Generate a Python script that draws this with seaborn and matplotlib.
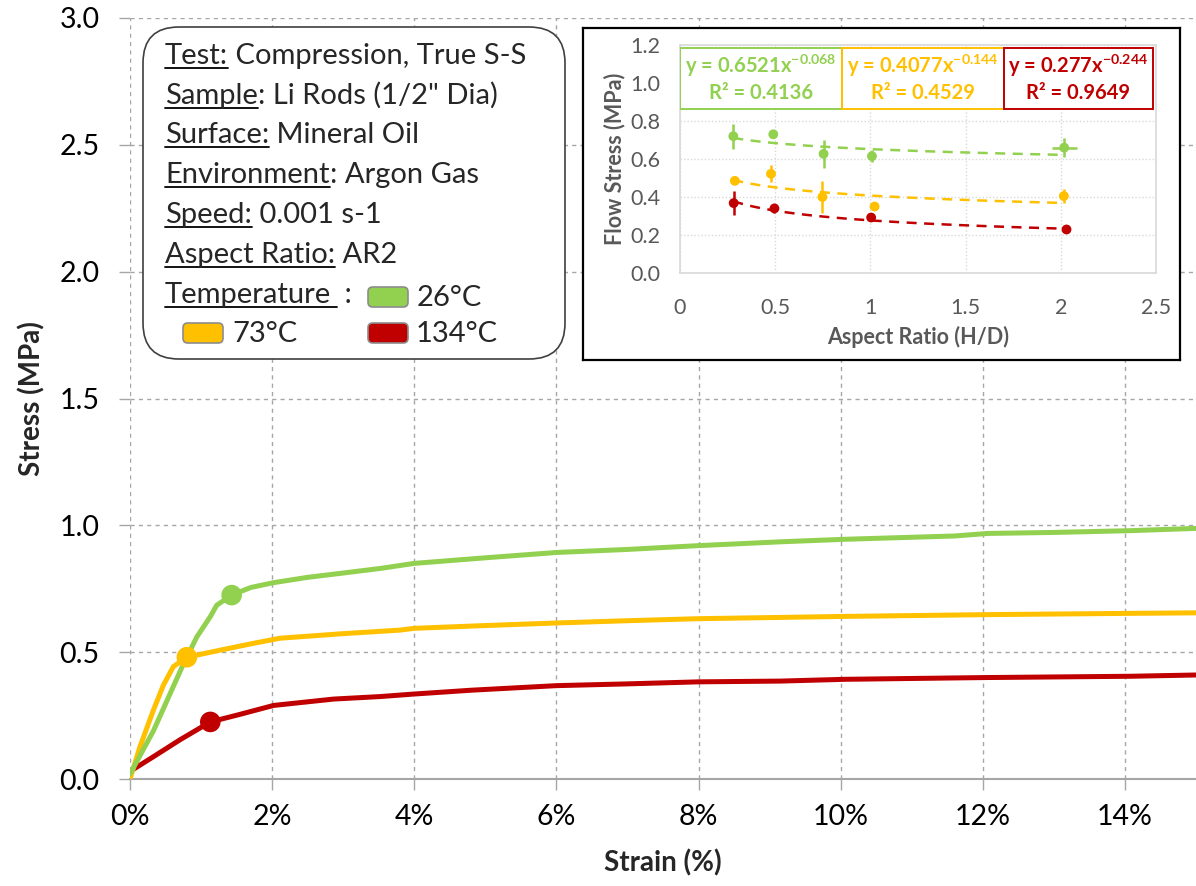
import numpy as np
import pandas as pd
import matplotlib
matplotlib.use("Agg")
import matplotlib.pyplot as plt
import seaborn as sns
from matplotlib.patches import FancyBboxPatch, Rectangle
from matplotlib.lines import Line2D
from matplotlib.ticker import FuncFormatter, MultipleLocator

# ---------------- data ----------------
temps = ["26°C", "73°C", "134°C"]
colors = {"26°C": "#92D050", "73°C": "#FFC000", "134°C": "#C00000"}

strain_26 = [0, 0.33, 0.73, 0.94, 1.13, 1.22, 1.43, 1.7, 2.02, 2.5, 3.0, 3.52, 4.0,
             5.0, 6.0, 7.0, 8.0, 9.15, 10.06, 11.6, 12.07, 13.0, 14.08, 15.0]
stress_26 = [0.02, 0.19, 0.44, 0.56, 0.64, 0.685, 0.725, 0.755, 0.774, 0.795, 0.812, 0.83, 0.85,
             0.872, 0.893, 0.905, 0.92, 0.935, 0.945, 0.958, 0.968, 0.972, 0.979, 0.988]

strain_73 = [0, 0.14, 0.33, 0.47, 0.61, 0.80, 1.27, 1.74, 2.11, 3.0, 3.8, 4.0, 5.0,
             6.0, 7.0, 8.0, 9.15, 10.06, 12.07, 14.08, 15.0]
stress_73 = [0.0, 0.127, 0.272, 0.37, 0.443, 0.48, 0.508, 0.535, 0.555, 0.573, 0.587, 0.594, 0.605,
             0.615, 0.624, 0.632, 0.637, 0.641, 0.648, 0.653, 0.655]

strain_134 = [0, 0.33, 0.70, 1.13, 1.55, 2.02, 2.86, 3.52, 4.0, 4.8, 6.0, 7.0, 8.0,
              9.15, 10.06, 12.07, 14.08, 15.0]
stress_134 = [0.03, 0.088, 0.154, 0.225, 0.255, 0.29, 0.315, 0.325, 0.335, 0.35, 0.368, 0.375, 0.383,
              0.386, 0.393, 0.400, 0.405, 0.41]

# flow-stress (yield) points marked on each curve
yield_strain = [1.43, 0.80, 1.13]
yield_stress = [0.725, 0.48, 0.225]

# flow stress vs. aspect ratio (inset)
ar_26 = [0.28, 0.49, 0.754, 1.008, 2.018]
fs_26 = [0.72, 0.73, 0.627, 0.615, 0.66]
err_26 = [0.065, 0.0, 0.075, 0.033, 0.05]
ar_73 = [0.288, 0.478, 0.748, 1.022, 2.016]
fs_73 = [0.485, 0.522, 0.40, 0.35, 0.405]
err_73 = [0.0, 0.045, 0.083, 0.0, 0.035]
ar_134 = [0.282, 0.496, 1.004, 2.03]
fs_134 = [0.368, 0.34, 0.292, 0.229]
err_134 = [0.065, 0.025, 0.02, 0.0]
xerr_ar2 = 0.065

# power-law fits  y = a * x^b
fit_a = [0.6521, 0.4077, 0.277]
fit_b = [-0.068, -0.144, -0.244]
fit_r2 = ["0.4136", "0.4529", "0.9649"]

# ---------------- style ----------------
sns.set_style("white")
plt.rcParams["font.family"] = ["Lato", "DejaVu Sans"]
plt.rcParams["mathtext.default"] = "regular"

W, H = 1196, 886
fig = plt.figure(figsize=(W / 100, H / 100), dpi=100)


def fx(px):
    return px / W


def fy(py):
    return 1 - py / H


GRID = "#A6A6A6"

# ---------------- main stress-strain chart ----------------
ax = fig.add_axes([fx(130), fy(779), (1196 - 130) / W, (779 - 18) / H])

curves = pd.concat([
    pd.DataFrame({"strain": strain_26, "stress": stress_26, "temp": temps[0]}),
    pd.DataFrame({"strain": strain_73, "stress": stress_73, "temp": temps[1]}),
    pd.DataFrame({"strain": strain_134, "stress": stress_134, "temp": temps[2]}),
], ignore_index=True)
yields = pd.DataFrame({"strain": yield_strain, "stress": yield_stress, "temp": temps})

sns.lineplot(data=curves, x="strain", y="stress", hue="temp", palette=colors,
             estimator=None, sort=False, linewidth=3.6, legend=False, ax=ax,
             hue_order=temps[::-1], zorder=3)
sns.scatterplot(data=yields, x="strain", y="stress", hue="temp", palette=colors,
                s=220, edgecolor="none", legend=False, ax=ax, zorder=4)

ax.set_xlim(0, 15)
ax.set_ylim(0, 3.0)
ax.xaxis.set_major_locator(MultipleLocator(2))
ax.yaxis.set_major_locator(MultipleLocator(0.5))
ax.xaxis.set_major_formatter(FuncFormatter(lambda v, p: f"{v:.0f}%"))
ax.yaxis.set_major_formatter(FuncFormatter(lambda v, p: f"{v:.1f}"))
ax.grid(True, color=GRID, linestyle=(0, (3, 3)), linewidth=1)
ax.set_axisbelow(True)
for s in ["top", "right", "left"]:
    ax.spines[s].set_visible(False)
ax.spines["bottom"].set_color(GRID)
ax.spines["bottom"].set_linewidth(1.5)
ax.tick_params(axis="both", bottom=True, left=True, length=8, width=1, color=GRID,
               labelsize=20.5, labelcolor="black")
ax.tick_params(axis="y", pad=14)
ax.tick_params(axis="x", pad=10)
ax.set_xlabel("Strain (%)", fontsize=20, fontweight="bold", labelpad=14)
ax.set_ylabel("Stress (MPa)", fontsize=20, fontweight="bold", labelpad=10)

# ---------------- description box ----------------
box = FancyBboxPatch((fx(143), fy(359)), (565 - 143) / W, (359 - 27) / H,
                     boxstyle="round,pad=0,rounding_size=0.03",
                     transform=fig.transFigure, facecolor="white",
                     edgecolor="#404040", linewidth=1.2, zorder=5,
                     mutation_aspect=W / H)
fig.add_artist(box)

renderer = fig.canvas.get_renderer()
FS = 21
x0 = 165
rows = [
    ("Test:", " Compression, True S-S", 64),
    ("Sample", ": Li Rods (1/2\" Dia)", 104),
    ("Surface:", " Mineral Oil", 143),
    ("Environment", ": Argon Gas", 183),
    ("Speed:", " 0.001 s-1", 223),
    ("Aspect Ratio:", " AR2", 263),
    ("Temperature", " :", 303),
]
for label, rest, base in rows:
    t = fig.text(fx(x0), fy(base), label, fontsize=FS, va="baseline", ha="left", zorder=6)
    bb = t.get_window_extent(renderer)
    ext = 6 if label == "Temperature" else 0
    fig.add_artist(Line2D([bb.x0 / W, (bb.x1 + ext) / W], [fy(base + 4)] * 2,
                          transform=fig.transFigure, color="black", linewidth=1.3, zorder=6))
    fig.text((bb.x1 + ext) / W, fy(base), rest, fontsize=FS, va="baseline", ha="left", zorder=6)

swatches = [(368, 287, temps[0], 417), (183, 323, temps[1], 232), (368, 323, temps[2], 416)]
for sx, sy, name, tx in swatches:
    sw = FancyBboxPatch((fx(sx), fy(sy + 20)), 40 / W, 20 / H,
                        boxstyle="round,pad=0,rounding_size=0.004",
                        transform=fig.transFigure, facecolor=colors[name],
                        edgecolor="#8C8C8C", linewidth=1.2, zorder=6,
                        mutation_aspect=W / H)
    fig.add_artist(sw)
    fig.text(fx(tx), fy(sy + 19), name, fontsize=FS, va="baseline", ha="left", zorder=6)

# ---------------- inset: flow stress vs aspect ratio ----------------
frame = fig.add_axes([fx(583), fy(360), (1180 - 583) / W, (360 - 28) / H], zorder=7)
frame.set_xticks([])
frame.set_yticks([])
frame.set_facecolor("white")
for s in frame.spines.values():
    s.set_color("black")
    s.set_linewidth(1.6)

ins = fig.add_axes([fx(680), fy(273), (1156 - 680) / W, (273 - 45) / H], zorder=8)
ins.set_facecolor("none")
inset_sets = [(ar_26, fs_26, err_26), (ar_73, fs_73, err_73), (ar_134, fs_134, err_134)]
xs = np.linspace(0.28, 2.02, 100)
for i, (name, (ar, fs, er)) in enumerate(zip(temps, inset_sets)):
    c = colors[name]
    ins.plot(xs, fit_a[i] * xs ** fit_b[i], color=c, linestyle=(0, (4, 3)), linewidth=1.8, zorder=2)
    xe = [0] * (len(ar) - 1) + [xerr_ar2] if i == 0 else None
    ins.errorbar(ar, fs, yerr=er, xerr=xe, fmt="none", ecolor=c, elinewidth=1.8, capsize=0, zorder=3)
    sns.scatterplot(x=ar, y=fs, color=c, s=50, edgecolor="none", ax=ins, zorder=4)

ins.set_xlim(0, 2.5)
ins.set_ylim(0, 1.2)
ins.xaxis.set_major_locator(MultipleLocator(0.5))
ins.yaxis.set_major_locator(MultipleLocator(0.2))
ins.xaxis.set_major_formatter(FuncFormatter(lambda v, p: f"{v:g}"))
ins.yaxis.set_major_formatter(FuncFormatter(lambda v, p: f"{v:.1f}"))
ins.grid(True, color="#D9D9D9", linestyle=(0, (1, 1.5)), linewidth=1)
ins.set_axisbelow(True)
for s in ins.spines.values():
    s.set_color("#D9D9D9")
    s.set_linewidth(1.2)
ins.tick_params(axis="both", length=0, labelsize=15.5, labelcolor="#595959")
ins.tick_params(axis="y", pad=14)
ins.tick_params(axis="x", pad=18)
ins.set_xlabel("Aspect Ratio (H/D)", fontsize=15.5, fontweight="bold", color="#595959", labelpad=6)
ins.set_ylabel("Flow Stress (MPa)", fontsize=15.5, fontweight="bold", color="#595959", labelpad=4)

# fit equation boxes
edges = [0.0, 0.85, 1.70, 2.485]
for i, name in enumerate(temps):
    c = colors[name]
    ins.add_patch(Rectangle((edges[i], 0.865), edges[i + 1] - edges[i], 0.32,
                            facecolor="white", edgecolor=c, linewidth=1.4, zorder=5))
    cx = (edges[i] + edges[i + 1]) / 2
    ins.text(cx, 1.09, f"y = {fit_a[i]:g}x$^{{{fit_b[i]:g}}}$", color=c, fontsize=14.5,
             fontweight="bold", ha="center", va="center", zorder=6)
    ins.text(cx, 0.945, f"R² = {fit_r2[i]}", color=c, fontsize=14.5,
             fontweight="bold", ha="center", va="center", zorder=6)

fig.savefig("out.png", dpi=100)
